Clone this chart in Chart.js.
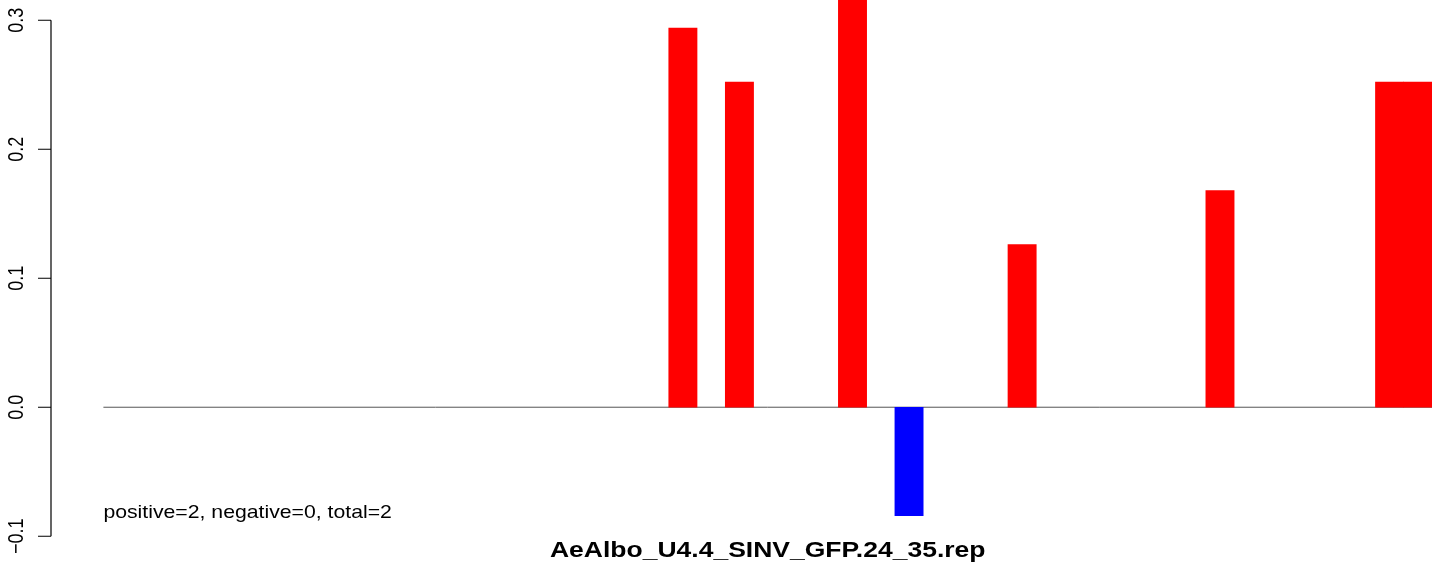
<!DOCTYPE html>
<html>
<head>
<meta charset="utf-8">
<script src="https://cdn.jsdelivr.net/npm/chart.js@4"></script>
<style>
  html, body { margin: 0; padding: 0; background: #fff; }
  canvas { display: block; }
</style>
</head>
<body>
<canvas id="chart" width="1444" height="569"></canvas>
<script>
// one slot per position, empty slots are null
const categories = Array.from({ length: 47 }, (_, i) => String(i + 1));
const values = [
  null, null, null, null, null, null, null, null, null, null,
  null, null, null, null, null, null, null, null, null, null,
  0.294, null, 0.252, null, null, null, 0.336, null, -0.084, null,
  null, null, 0.126, null, null, null, null, null, null, 0.168,
  null, null, null, null, null, 0.252, 0.252
];
const yTicks = [-0.1, 0.0, 0.1, 0.2, 0.3];
const yTickLabels = ["\u22120.1", "0.0", "0.1", "0.2", "0.3"];
const titleText = "AeAlbo_U4.4_SINV_GFP.24_35.rep";
const noteText = "positive=2, negative=0, total=2";

const FONT = '"Liberation Sans", Arial, sans-serif';

// the picture is a bit wider than tall, so text is drawn widened
function drawText(ctx, text, x, y, font, align, stretch, rotated) {
  ctx.save();
  ctx.translate(x, y);
  ctx.scale(stretch, 1);
  if (rotated) ctx.rotate(-Math.PI / 2);
  ctx.font = font;
  ctx.fillStyle = "#000";
  ctx.textAlign = align;
  ctx.textBaseline = "alphabetic";
  ctx.fillText(text, 0, 0);
  ctx.restore();
}

// R style axis: line only over the tick range, ticks outside, rotated labels
const rAxis = {
  id: "rAxis",
  beforeDatasetsDraw(chart) {
    const { ctx, chartArea } = chart;
    const y0 = chart.scales.y.getPixelForValue(0);
    ctx.save();
    ctx.strokeStyle = "#555";
    ctx.lineWidth = 1;
    ctx.beginPath();
    ctx.moveTo(chartArea.left, y0);
    ctx.lineTo(chartArea.right, y0);
    ctx.stroke();
    ctx.restore();
  },
  afterDraw(chart) {
    const { ctx, chartArea } = chart;
    const y = chart.scales.y;
    const axisX = 51;
    ctx.save();
    ctx.strokeStyle = "#000";
    ctx.lineWidth = 1.2;
    ctx.beginPath();
    ctx.moveTo(axisX, y.getPixelForValue(yTicks[0]));
    ctx.lineTo(axisX, y.getPixelForValue(yTicks[yTicks.length - 1]));
    yTicks.forEach(t => {
      const py = y.getPixelForValue(t);
      ctx.moveTo(axisX, py);
      ctx.lineTo(axisX - 13, py);
    });
    ctx.stroke();
    ctx.restore();

    yTicks.forEach((t, i) => {
      drawText(ctx, yTickLabels[i], 23, y.getPixelForValue(t), "18px " + FONT, "center", 1.2, true);
    });

    drawText(ctx, noteText, chartArea.left, 518, "17.7px " + FONT, "left", 1.2, false);
    drawText(ctx, titleText, (chartArea.left + chartArea.right) / 2, 557,
      "bold 21.8px " + FONT, "center", 1.216, false);
  }
};

new Chart(document.getElementById("chart"), {
  type: "bar",
  data: {
    labels: categories,
    datasets: [{
      data: values,
      backgroundColor: values.map(v => (v !== null && v < 0) ? "#0000ff" : "#ff0000"),
      borderWidth: 0,
      categoryPercentage: 1,
      barPercentage: 1
    }]
  },
  options: {
    responsive: false,
    animation: false,
    devicePixelRatio: 1,
    layout: { padding: { left: 103.4, right: 12, top: 0, bottom: 0 } },
    plugins: {
      legend: { display: false },
      tooltip: { enabled: false }
    },
    scales: {
      x: { display: false, offset: true },
      y: { display: false, min: -0.1254, max: 0.3157 }
    }
  },
  plugins: [rAxis]
});
</script>
</body>
</html>
